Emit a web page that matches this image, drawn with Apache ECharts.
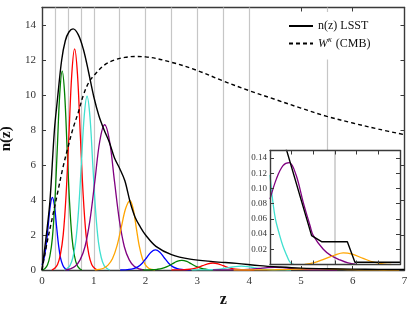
<!DOCTYPE html>
<html><head><meta charset="utf-8">
<script src="https://cdn.jsdelivr.net/npm/echarts@6/dist/echarts.min.js"></script>
<style>html,body{margin:0;padding:0;background:#fff}#c{width:415px;height:312px}</style>
</head><body><div id="c"></div>
<script>
// ---- main panel data ----
const gridZ = [0.25, 0.5, 0.75, 1, 1.5, 2, 2.5, 3, 3.5, 4, 5.5];
const nzLSST = [[0,0],[0.1,2.4],[0.155,4.0],[0.24,8.0],[0.3,9.8],[0.38,12.0],[0.45,13.1],[0.52,13.6],[0.6,13.78],[0.7,13.45],[0.8,12.6],[0.9,11.3],[1.0,9.9],[1.1,8.8],[1.2,8.0],[1.3,7.3],[1.4,6.4],[1.5,5.8],[1.6,5.1],[1.7,3.9],[1.8,3.0],[1.9,2.45],[2.0,2.0],[2.2,1.35],[2.5,0.88],[2.86,0.62],[3.3,0.48],[3.76,0.38],[4.2,0.25],[4.6,0.17],[5.0,0.11],[5.5,0.07],[6.0,0.05],[6.5,0.035],[7.0,0.025]];
const wCMB = [[0,0],[0.1,1.6],[0.2,3.0],[0.3,4.4],[0.4,5.8],[0.5,7.0],[0.6,8.1],[0.7,9.0],[0.8,10.0],[0.9,10.7],[1.0,11.1],[1.2,11.7],[1.4,12.0],[1.6,12.15],[1.8,12.2],[2.0,12.18],[2.5,11.87],[3.0,11.4],[3.5,10.8],[4.0,10.25],[4.5,9.75],[5.0,9.25],[5.5,8.78],[6.0,8.4],[6.5,8.05],[7.0,7.73]];
const binBlue1 = [[0,0.29],[0.04,0.66],[0.08,1.41],[0.12,2.53],[0.16,3.67],[0.2,4.15],[0.24,3.67],[0.28,2.53],[0.32,1.41],[0.36,0.66],[0.4,0.29],[0.44,0.10],[0.48,0.03],[0.52,0]];
const binGreen1 = [[0.01,0],[0.0575,0.09],[0.105,0.28],[0.1525,0.80],[0.2,1.82],[0.2475,3.86],[0.295,6.93],[0.3425,10.05],[0.39,11.36],[0.4375,10.05],[0.485,6.93],[0.5325,3.86],[0.58,1.82],[0.6275,0.80],[0.675,0.28],[0.7225,0.09],[0.77,0]];
const binRed1 = [[0.19,0],[0.245,0.10],[0.30,0.32],[0.355,0.88],[0.41,2.02],[0.465,4.30],[0.52,7.71],[0.575,11.19],[0.63,12.64],[0.685,11.19],[0.74,7.71],[0.795,4.30],[0.85,2.02],[0.905,0.88],[0.96,0.32],[1.015,0.10],[1.07,0]];
const binCyan1 = [[0.43,0],[0.485,0.08],[0.54,0.25],[0.595,0.70],[0.65,1.59],[0.705,3.38],[0.76,6.06],[0.815,8.79],[0.87,9.93],[0.925,8.79],[0.98,6.06],[1.035,3.38],[1.09,1.59],[1.145,0.70],[1.2,0.25],[1.255,0.08],[1.31,0]];
const binPurple1 = [[0.45,0],[0.545,0.07],[0.64,0.21],[0.735,0.58],[0.83,1.33],[0.925,2.82],[1.02,5.06],[1.115,7.35],[1.21,8.3],[1.305,7.35],[1.4,5.06],[1.495,2.82],[1.59,1.33],[1.685,0.58],[1.78,0.21],[1.875,0.07],[1.97,0]];
const binOrange1 = [[1.02,0],[1.105,0.03],[1.19,0.10],[1.275,0.28],[1.36,0.64],[1.445,1.35],[1.53,2.42],[1.615,3.51],[1.70,3.97],[1.76,3.51],[1.82,2.42],[1.88,1.35],[1.94,0.64],[2.0,0.28],[2.06,0.10],[2.12,0.03],[2.18,0]];
const binBlue2 = [[1.51,0],[1.595,0.01],[1.68,0.03],[1.765,0.08],[1.85,0.18],[1.935,0.39],[2.02,0.70],[2.105,1.02],[2.19,1.15],[2.275,1.02],[2.36,0.70],[2.445,0.39],[2.53,0.18],[2.615,0.08],[2.7,0.03],[2.785,0.01],[2.87,0]];
const binGreen2 = [[1.94,0],[2.035,0.004],[2.13,0.014],[2.225,0.04],[2.32,0.09],[2.415,0.19],[2.51,0.34],[2.605,0.49],[2.7,0.55],[2.795,0.49],[2.89,0.34],[2.985,0.19],[3.08,0.09],[3.175,0.04],[3.27,0.014],[3.365,0.004],[3.46,0]];
const binRed2 = [[2.5,0],[2.6,0.003],[2.7,0.01],[2.8,0.028],[2.9,0.064],[3.0,0.136],[3.1,0.244],[3.2,0.354],[3.3,0.40],[3.4,0.354],[3.5,0.244],[3.6,0.136],[3.7,0.064],[3.8,0.028],[3.9,0.01],[4.0,0.003],[4.1,0]];
const binCyan2 = [[2.89,0],[3.01,0.002],[3.13,0.006],[3.25,0.015],[3.37,0.035],[3.49,0.075],[3.61,0.134],[3.73,0.195],[3.85,0.22],[3.97,0.195],[4.09,0.134],[4.21,0.075],[4.33,0.035],[4.45,0.015],[4.57,0.006],[4.69,0.002],[4.81,0]];
const binPurple2 = [[3.3,0],[3.45,0.001],[3.6,0.004],[3.75,0.011],[3.9,0.024],[4.05,0.051],[4.2,0.092],[4.35,0.133],[4.5,0.15],[4.65,0.133],[4.8,0.092],[4.95,0.051],[5.1,0.024],[5.25,0.011],[5.4,0.004],[5.55,0.001],[5.7,0]];
const binOrange2 = [[3.7,0],[3.9,0.001],[4.1,0.002],[4.3,0.006],[4.5,0.013],[4.7,0.027],[4.9,0.049],[5.1,0.071],[5.3,0.08],[5.5,0.071],[5.7,0.049],[5.9,0.027],[6.1,0.013],[6.3,0.006],[6.5,0.002],[6.7,0.001],[6.9,0]];

// ---- inset data ----
const insetGridX = [3];
const insetYTop = 0.15;
const insetCyan = [[0,0.118],[0.1,0.09],[0.25,0.06],[0.45,0.038],[0.6,0.024],[0.77,0.012],[0.9,0.004],[1.0,0.001],[1.1,0]];
const insetPurple = [[0,0.086],[0.3,0.113],[0.6,0.13],[0.89,0.134],[1.2,0.118],[1.54,0.081],[1.85,0.051],[2.0,0.038],[2.46,0.02],[2.8,0.012],[3.23,0.006],[3.6,0.002],[4.0,0]];
const insetBlack = [[0.6,0.1666],[1.92,0.038],[2.38,0.03],[3.57,0.03],[3.92,0.003],[6,0.003]];
const insetOrange = [[1.6,0],[2.0,0.002],[2.5,0.007],[3.0,0.0125],[3.38,0.0153],[3.8,0.0135],[4.3,0.008],[4.8,0.003],[5.3,0.0005],[5.6,0]];

const FONT = 'Liberation Serif';
const FRAME = '#3a3a3a';

function curve(data, color, extra) {
  return Object.assign({
    type: 'line', data: data, smooth: 0.35, showSymbol: false, symbol: 'none',
    xAxisIndex: 0, yAxisIndex: 0, z: 2, silent: true,
    lineStyle: { color: color, width: 1.3 }, itemStyle: { color: color, opacity: 0 }
  }, extra || {});
}
function insetCurve(data, color, extra) {
  return curve(data, color, Object.assign({ xAxisIndex: 2, yAxisIndex: 2, z: 8 }, extra || {}));
}
function frameAxis(base) {
  return Object.assign({
    type: 'value',
    axisLine: { show: true, onZero: false, lineStyle: { color: FRAME, width: 1.4 } },
    axisTick: { show: true, inside: true, length: 4, lineStyle: { color: FRAME, width: 1 } },
    splitLine: { show: false },
    axisLabel: { show: false }
  }, base);
}
function vLines(xi, yi, values, z) {
  return { type: 'line', xAxisIndex: xi, yAxisIndex: yi, data: [], z: z, silent: true,
    markLine: { silent: true, z: z, symbol: ['none', 'none'], label: { show: false },
      lineStyle: { color: '#c6c6c6', width: 1.2, type: 'solid' },
      emphasis: { disabled: true },
      data: values.map(function (v) { return { xAxis: v }; }) } };
}

const insetGridSeries = insetGridX.map(function (v) {
  return { type: 'line', xAxisIndex: 2, yAxisIndex: 2, z: 8, silent: true, symbol: 'none', showSymbol: false,
    data: [[v, 0], [v, insetYTop]], lineStyle: { color: '#bdbdbd', width: 1.3 } };
});

const chart = echarts.init(document.getElementById('c'), null, { renderer: 'canvas' });
chart.setOption({
  animation: false,
  backgroundColor: '#fff',
  grid: [
    { left: 42, top: 7.5, width: 362.5, height: 262.5, containLabel: false, outerBoundsMode: 'none' },
    { left: 270, top: 150.5, width: 130, height: 114, containLabel: false, outerBoundsMode: 'none',
      show: true, backgroundColor: '#fff', borderWidth: 0, z: 4 }
  ],
  legend: {
    left: 280, top: 12, orient: 'vertical', itemWidth: 24, itemHeight: 14, itemGap: 4,
    padding: [8, 6, 10, 8], backgroundColor: '#fff',
    itemStyle: { opacity: 0 },
    data: [{ name: 'n(z) LSST' }, { name: 'W' }],
    formatter: function (name) { return name === 'W' ? '{i|W}{s|κ} (CMB)' : name; },
    textStyle: {
      fontFamily: FONT, fontSize: 12, color: '#111',
      rich: {
        i: { fontFamily: FONT, fontSize: 12, fontStyle: 'italic', color: '#111' },
        s: { fontFamily: FONT, fontSize: 8, fontStyle: 'italic', color: '#111', padding: [0, 1, 7, 0] }
      }
    }
  },
  xAxis: [
    frameAxis({ gridIndex: 0, position: 'bottom', min: 0, max: 7, interval: 1,
      axisLabel: { show: true, fontFamily: FONT, fontSize: 11, color: '#333', margin: 6 },
      name: 'z', nameLocation: 'middle', nameGap: 19,
      nameTextStyle: { fontFamily: FONT, fontWeight: 'bold', fontSize: 16, color: '#111' } }),
    frameAxis({ gridIndex: 0, position: 'top', min: 0, max: 7, interval: 1 }),
    frameAxis({ gridIndex: 1, position: 'bottom', min: 0, max: 6, interval: 1, z: 9 }),
    frameAxis({ gridIndex: 1, position: 'top', min: 0, max: 6, interval: 1, z: 9 })
  ],
  yAxis: [
    frameAxis({ gridIndex: 0, position: 'left', min: 0, max: 15, interval: 2,
      axisLabel: { show: true, fontFamily: FONT, fontSize: 11, color: '#333', margin: 6,
        formatter: function (v) { return v % 2 === 0 ? String(v) : ''; } },
      name: 'n(z)', nameLocation: 'middle', nameGap: 21, nameRotate: 90,
      nameTextStyle: { fontFamily: FONT, fontWeight: 'bold', fontSize: 15, color: '#111' } }),
    frameAxis({ gridIndex: 0, position: 'right', min: 0, max: 15, interval: 2 }),
    frameAxis({ gridIndex: 1, position: 'left', min: 0, max: insetYTop, interval: 0.02, z: 9,
      axisLabel: { show: true, fontFamily: FONT, fontSize: 9, color: '#333', margin: 3,
        formatter: function (v) { return (v > 0.001 && v < 0.145) ? v.toFixed(2) : ''; } } }),
    frameAxis({ gridIndex: 1, position: 'right', min: 0, max: insetYTop, interval: 0.02, z: 9 })
  ],
  series: [
    vLines(0, 0, gridZ, 1),
    curve(binBlue1, '#0000ff'),
    curve(binGreen1, '#008000'),
    curve(binRed1, '#ff0000'),
    curve(binCyan1, '#40e0d0'),
    curve(binPurple1, '#800080'),
    curve(binOrange1, '#ffa500'),
    curve(binBlue2, '#0000ff'),
    curve(binGreen2, '#008000'),
    curve(binRed2, '#ff0000'),
    curve(binCyan2, '#40e0d0'),
    curve(binPurple2, '#800080'),
    curve(binOrange2, '#ffa500'),
    curve(nzLSST, '#000000', { name: 'n(z) LSST', lineStyle: { color: '#000', width: 1.4 } }),
    curve(wCMB, '#000000', { name: 'W', lineStyle: { color: '#000', width: 1.4, type: [4, 3] } })
  ].concat(insetGridSeries).concat([
    insetCurve(insetCyan, '#40e0d0'),
    insetCurve(insetPurple, '#800080'),
    insetCurve(insetOrange, '#ffa500'),
    insetCurve(insetBlack, '#000000', { smooth: false, lineStyle: { color: '#000', width: 1.4 } })
  ])
});
</script>
</body></html>
